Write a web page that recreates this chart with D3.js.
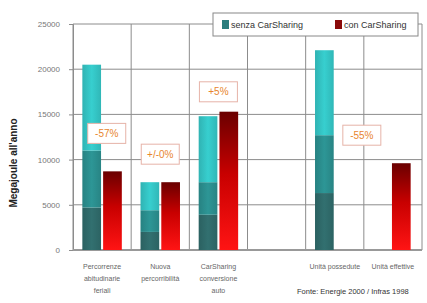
<!DOCTYPE html>
<html>
<head>
<meta charset="utf-8">
<script src="https://cdnjs.cloudflare.com/ajax/libs/d3/7.8.5/d3.min.js"></script>
<style>
body { margin: 0; background: #fff; }
svg { display: block; font-family: "Liberation Sans", Arial, sans-serif; }
</style>
</head>
<body>
<svg id="chart" width="427" height="303"></svg>
<script>
// categories (4th slot is an empty gap in the original)
var categories = ["abitudinarie", "percorribilita", "conversione", "gap", "possedute", "effettive"];
var categoryLabels = [
    ["Percorrenze", "abitudinarie", "feriali"],
    ["Nuova", "percorribilità"],
    ["CarSharing", "conversione", "auto"],
    [],
    ["Unità possedute"],
    ["Unità effettive"]
];

// senza CarSharing, split in three stacked bands (bottom, middle, top)
var senzaLow = [4700, 2000, 3900, 0, 6300, 0];
var senzaMid = [6300, 2400, 3600, 0, 6400, 0];
var senzaTop = [9500, 3100, 7300, 0, 9400, 0];

// con CarSharing totals
var conValues = [8700, 7500, 15300, 0, 0, 9600];

var yTicks = [0, 5000, 10000, 15000, 20000, 25000];

// percentage notes
var noteCats = ["abitudinarie", "percorribilita", "conversione", "effettive"];
var noteValues = [12900, 10600, 17500, 12700];
var noteTexts = ["-57%", "+/-0%", "+5%", "-55%"];

var seriesNames = ["senza CarSharing", "con CarSharing"];

(function() {
    var svg = d3.select("#chart");
    var mLeft = 73, mRight = 422, mTop = 24, mBottom = 250;

    var x0 = d3.scaleBand().domain(categories).range([mLeft, mRight]).padding(0);
    var x1 = d3.scaleBand().domain(["senza", "con"]).range([0, x0.bandwidth()])
        .paddingInner(0.1).paddingOuter(0.45);
    var y = d3.scaleLinear().domain([0, 25000]).range([mBottom, mTop]);

    // gradients
    var defs = svg.append("defs");
    var redGrad = defs.append("linearGradient").attr("id", "redGrad")
        .attr("x1", 0).attr("y1", 0).attr("x2", 0).attr("y2", 1);
    redGrad.append("stop").attr("offset", "0%").attr("stop-color", "#6a0000");
    redGrad.append("stop").attr("offset", "45%").attr("stop-color", "#c80000");
    redGrad.append("stop").attr("offset", "100%").attr("stop-color", "#ff1414");

    var tealColors = ["#2f6a6a", "#2b8e8e", "#34c4c4"];
    tealColors.forEach(function(c, i) {
        var g = defs.append("linearGradient").attr("id", "teal" + i)
            .attr("x1", 0).attr("y1", 0).attr("x2", 1).attr("y2", 0);
        g.append("stop").attr("offset", "0%").attr("stop-color", d3.color(c).darker(0.25));
        g.append("stop").attr("offset", "50%").attr("stop-color", d3.color(c).brighter(0.15));
        g.append("stop").attr("offset", "100%").attr("stop-color", d3.color(c).darker(0.2));
    });

    // grid
    svg.append("g").selectAll("line").data(yTicks).join("line")
        .attr("x1", mLeft).attr("x2", mRight)
        .attr("y1", function(d) { return y(d); }).attr("y2", function(d) { return y(d); })
        .attr("stroke", "#8c8c8c").attr("stroke-width", 1);

    var vlines = categories.map(function(c) { return x0(c); }).concat([mRight]);
    svg.append("g").selectAll("line").data(vlines).join("line")
        .attr("x1", function(d) { return d; }).attr("x2", function(d) { return d; })
        .attr("y1", mTop).attr("y2", mBottom)
        .attr("stroke", "#8c8c8c").attr("stroke-width", 1);

    // y axis
    var yAxis = svg.append("g").attr("transform", "translate(" + mLeft + ",0)")
        .call(d3.axisLeft(y).tickValues(yTicks).tickSize(4).tickPadding(9).tickFormat(d3.format("d")));
    yAxis.select(".domain").attr("stroke", "#8c8c8c");
    yAxis.selectAll(".tick line").attr("stroke", "#8c8c8c");
    yAxis.selectAll("text").attr("fill", "#777").style("font-size", "8px");

    svg.append("line").attr("x1", mLeft).attr("x2", mRight).attr("y1", mBottom).attr("y2", mBottom)
        .attr("stroke", "#999").attr("stroke-width", 2);

    // teal stacked bars
    var rows = categories.map(function(c, i) {
        return { cat: c, low: senzaLow[i], mid: senzaMid[i], top: senzaTop[i] };
    });
    var stacked = d3.stack().keys(["low", "mid", "top"])(rows);
    svg.append("g").selectAll("g").data(stacked).join("g")
        .attr("fill", function(d, i) { return "url(#teal" + i + ")"; })
        .selectAll("rect").data(function(d) { return d.filter(function(p) { return p[1] > p[0]; }); })
        .join("rect")
        .attr("x", function(d) { return x0(d.data.cat) + x1("senza"); })
        .attr("width", x1.bandwidth())
        .attr("y", function(d) { return y(d[1]); })
        .attr("height", function(d) { return y(d[0]) - y(d[1]); });

    // red bars
    var conRows = categories.map(function(c, i) { return { cat: c, v: conValues[i] }; })
        .filter(function(d) { return d.v > 0; });
    svg.append("g").selectAll("rect").data(conRows).join("rect")
        .attr("x", function(d) {
            // lone red bar in the last slot sits a bit left
            return d.cat == "effettive" ? x0(d.cat) + x1("con") - 2 : x0(d.cat) + x1("con");
        })
        .attr("width", x1.bandwidth())
        .attr("y", function(d) { return y(d.v); })
        .attr("height", function(d) { return y(0) - y(d.v); })
        .attr("fill", "url(#redGrad)");

    // percentage notes
    var notes = noteCats.map(function(c, i) { return { cat: c, v: noteValues[i], t: noteTexts[i] }; });
    var ng = svg.append("g").selectAll("g").data(notes).join("g")
        .attr("transform", function(d, i) {
            var cx = x0(d.cat) + x0.bandwidth() / 2;
            if (i == 0) cx = x0(d.cat) + x0.bandwidth() * 0.58;
            if (d.cat == "effettive") cx = x0(d.cat) - 2;
            return "translate(" + cx + "," + y(d.v) + ")";
        });
    ng.append("rect").attr("x", -19).attr("y", -10).attr("width", 38).attr("height", 20)
        .attr("fill", "#fff").attr("stroke", "#e6b3a8").attr("stroke-width", 1);
    ng.append("text").attr("text-anchor", "middle").attr("dy", "0.35em")
        .attr("fill", "#e8862e").style("font-size", "10px").text(function(d) { return d.t; });

    // category labels
    var lab = svg.append("g").selectAll("text").data(categories).join("text")
        .attr("text-anchor", "middle")
        .attr("x", function(d) { return x0(d) + x0.bandwidth() / 2; })
        .attr("y", 269)
        .attr("fill", "#666").style("font-size", "7px");
    lab.selectAll("tspan").data(function(d, i) { return categoryLabels[i]; }).join("tspan")
        .attr("x", function() { return this.parentNode.getAttribute("x"); })
        .attr("dy", function(d, i) { return i == 0 ? 0 : 12; })
        .text(function(d) { return d; });

    // y label
    svg.append("text").attr("transform", "translate(17," + ((mTop + mBottom) / 2 + 26) + ") rotate(-90)")
        .attr("text-anchor", "middle").attr("font-weight", "bold")
        .style("font-size", "10px").attr("fill", "#222").text("Megajoule all'anno");

    // legend
    var lg = svg.append("g").attr("transform", "translate(213,13)");
    lg.append("rect").attr("width", 205).attr("height", 23)
        .attr("fill", "#fff").attr("stroke", "#888").attr("stroke-width", 1);
    lg.append("rect").attr("x", 9).attr("y", 7).attr("width", 7).attr("height", 9).attr("fill", "#2b7d7d");
    lg.append("text").attr("x", 18).attr("y", 15).style("font-size", "9px").attr("fill", "#333").text(seriesNames[0]);
    lg.append("rect").attr("x", 122).attr("y", 7).attr("width", 7).attr("height", 9).attr("fill", "#8a0a0a");
    lg.append("text").attr("x", 131).attr("y", 15).style("font-size", "9px").attr("fill", "#333").text(seriesNames[1]);

    // source
    svg.append("text").attr("x", 297).attr("y", 294).style("font-size", "7.5px").attr("fill", "#333")
        .text("Fonte: Energie 2000 / Infras 1998");
})();
</script>
</body>
</html>
